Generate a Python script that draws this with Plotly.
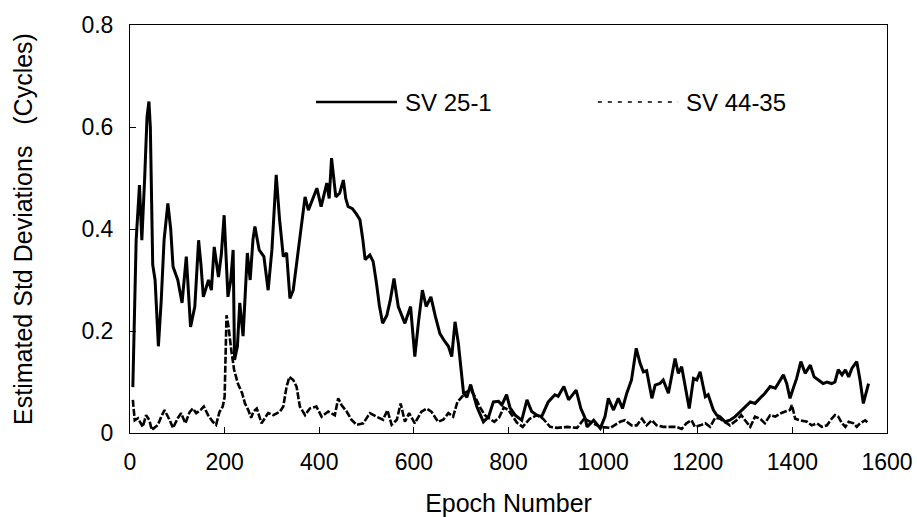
import plotly.graph_objects as go

# SV 25-1 (solid)
sv25_epoch = [6, 13, 20, 25, 31, 36, 40, 43, 48, 53, 60, 66, 72, 80, 86, 91, 101, 110, 119, 128,
              137, 145, 150, 155, 166, 172, 178, 187, 193, 199, 207, 213, 218, 221, 227, 232, 239, 248, 254, 260,
              264, 273, 283, 292, 300, 309, 316, 324, 331, 338, 345, 356, 370, 377, 386, 395, 404, 410, 416, 421,
              426, 435, 443, 451, 456, 461, 470, 478, 486, 492, 497, 507, 514, 521, 527, 534, 543, 550, 558, 567,
              575, 581, 593, 602, 610, 618, 626, 636, 645, 655, 665, 673, 680, 687, 694, 705, 712, 720, 733, 747,
              758, 768, 779, 786, 796, 803, 814, 828, 839, 849, 860, 870, 884, 898, 905, 917, 927, 943, 953, 962,
              966, 980, 994, 1004, 1011, 1022, 1032, 1041, 1050, 1060, 1070, 1078, 1085, 1092, 1103, 1110, 1120, 1127, 1138, 1152,
              1159, 1166, 1182, 1191, 1198, 1205, 1216, 1222, 1233, 1240, 1247, 1258, 1268, 1279, 1290, 1300, 1311, 1321, 1332, 1342,
              1353, 1364, 1370, 1381, 1388, 1395, 1402, 1409, 1418, 1427, 1438, 1446, 1455, 1465, 1473, 1483, 1490, 1497, 1505, 1512,
              1519, 1526, 1536, 1543, 1550, 1554, 1561]
sv25_value = [0.09, 0.378, 0.486, 0.378, 0.50, 0.62, 0.65, 0.60, 0.33, 0.30, 0.17, 0.26, 0.378, 0.45, 0.40, 0.326, 0.30, 0.255, 0.346, 0.208,
              0.248, 0.378, 0.33, 0.267, 0.30, 0.28, 0.365, 0.306, 0.35, 0.427, 0.267, 0.30, 0.359, 0.143, 0.17, 0.255, 0.19, 0.353, 0.30, 0.38,
              0.405, 0.359, 0.346, 0.28, 0.36, 0.506, 0.42, 0.346, 0.353, 0.264, 0.28, 0.359, 0.463, 0.437, 0.46, 0.48, 0.444, 0.47, 0.49, 0.46,
              0.539, 0.463, 0.47, 0.496, 0.46, 0.444, 0.44, 0.43, 0.418, 0.38, 0.34, 0.349, 0.336, 0.293, 0.25, 0.215, 0.231, 0.26, 0.303, 0.248,
              0.23, 0.215, 0.248, 0.15, 0.22, 0.28, 0.248, 0.267, 0.23, 0.195, 0.18, 0.17, 0.15, 0.218, 0.176, 0.078, 0.07, 0.095, 0.052, 0.022,
              0.032, 0.061, 0.062, 0.055, 0.075, 0.05, 0.035, 0.025, 0.065, 0.042, 0.035, 0.032, 0.061, 0.075, 0.072, 0.091, 0.065, 0.084, 0.048, 0.029,
              0.012, 0.025, 0.009, 0.032, 0.068, 0.045, 0.068, 0.048, 0.078, 0.104, 0.166, 0.137, 0.12, 0.122, 0.068, 0.094, 0.097, 0.104, 0.078, 0.146,
              0.117, 0.13, 0.048, 0.107, 0.104, 0.12, 0.071, 0.075, 0.045, 0.035, 0.032, 0.022, 0.025, 0.032, 0.042, 0.052, 0.061, 0.058, 0.068, 0.078,
              0.091, 0.088, 0.097, 0.114, 0.097, 0.068, 0.088, 0.107, 0.14, 0.117, 0.133, 0.11, 0.104, 0.097, 0.10, 0.097, 0.10, 0.124, 0.114, 0.124,
              0.11, 0.127, 0.14, 0.104, 0.058, 0.071, 0.097]

# SV 44-35 (dashed)
sv44_epoch = [6, 10, 17, 27, 34, 41, 46, 59, 66, 73, 84, 91, 101, 108, 117, 126, 133, 140, 149, 156,
              165, 175, 182, 189, 196, 200, 204, 208, 214, 220, 228, 237, 243, 250, 256, 261, 268, 278, 292, 303,
              317, 324, 331, 337, 345, 352, 359, 370, 380, 394, 405, 419, 433, 440, 447, 458, 468, 479, 493, 507,
              521, 535, 544, 553, 564, 572, 581, 590, 602, 616, 627, 637, 651, 662, 673, 683, 692, 701, 710, 720,
              730, 740, 750, 760, 770, 780, 790, 800, 810, 818, 830, 845, 860, 873, 888, 902, 924, 945, 960, 972,
              994, 1015, 1036, 1046, 1060, 1071, 1082, 1092, 1103, 1113, 1127, 1141, 1155, 1166, 1176, 1187, 1194, 1205, 1216, 1226,
              1237, 1247, 1258, 1268, 1282, 1292, 1300, 1311, 1321, 1332, 1342, 1353, 1364, 1374, 1385, 1395, 1399, 1406, 1416, 1431,
              1441, 1452, 1462, 1473, 1483, 1490, 1497, 1505, 1512, 1519, 1529, 1536, 1543, 1550, 1554, 1561]
sv44_value = [0.065, 0.025, 0.029, 0.012, 0.035, 0.025, 0.006, 0.016, 0.032, 0.045, 0.025, 0.01, 0.029, 0.039, 0.019, 0.041, 0.048, 0.039, 0.045, 0.052,
              0.035, 0.022, 0.016, 0.041, 0.052, 0.071, 0.231, 0.21, 0.163, 0.124, 0.097, 0.078, 0.058, 0.045, 0.03, 0.042, 0.048, 0.019, 0.039, 0.035,
              0.042, 0.052, 0.091, 0.11, 0.104, 0.091, 0.052, 0.035, 0.048, 0.052, 0.032, 0.042, 0.035, 0.068, 0.055, 0.042, 0.026, 0.016, 0.019, 0.039,
              0.032, 0.026, 0.045, 0.016, 0.026, 0.058, 0.022, 0.039, 0.019, 0.042, 0.048, 0.042, 0.022, 0.026, 0.039, 0.032, 0.061, 0.07, 0.08, 0.085,
              0.07, 0.05, 0.035, 0.028, 0.022, 0.03, 0.05, 0.045, 0.03, 0.02, 0.012, 0.028, 0.035, 0.028, 0.012, 0.01, 0.012, 0.01, 0.028, 0.022,
              0.012, 0.01, 0.022, 0.025, 0.015, 0.015, 0.028, 0.015, 0.025, 0.015, 0.012, 0.012, 0.012, 0.008, 0.019, 0.025, 0.012, 0.015, 0.019, 0.012,
              0.03, 0.028, 0.022, 0.015, 0.025, 0.035, 0.025, 0.012, 0.032, 0.028, 0.019, 0.035, 0.032, 0.038, 0.042, 0.045, 0.055, 0.028, 0.025, 0.022,
              0.015, 0.019, 0.012, 0.015, 0.028, 0.035, 0.032, 0.019, 0.012, 0.022, 0.019, 0.012, 0.019, 0.022, 0.025, 0.019]

x_ticks = [0, 200, 400, 600, 800, 1000, 1200, 1400, 1600]
y_ticks = [0, 0.2, 0.4, 0.6, 0.8]
y_tick_text = ["0", "0.2", "0.4", "0.6", "0.8"]
names = ["SV 25-1", "SV 44-35"]

FONT = "Arial, Liberation Sans, sans-serif"

fig = go.Figure()
fig.add_trace(go.Scatter(x=sv25_epoch, y=sv25_value, mode="lines", name=names[0],
                         line=dict(color="black", width=3), showlegend=False))
fig.add_trace(go.Scatter(x=sv44_epoch, y=sv44_value, mode="lines", name=names[1],
                         line=dict(color="black", width=2.6, dash="7px,2px"), showlegend=False))

# legend drawn manually (paper coordinates)
fig.add_shape(type="line", xref="paper", yref="paper", x0=0.2457, x1=0.3527, y0=0.811, y1=0.811,
              line=dict(color="black", width=2.5))
fig.add_shape(type="line", xref="paper", yref="paper", x0=0.618, x1=0.724, y0=0.811, y1=0.811,
              line=dict(color="black", width=1.5, dash="4px,6px"))
fig.add_annotation(xref="paper", yref="paper", x=0.3606, y=0.811, text=names[0], showarrow=False,
                   xanchor="left", yanchor="middle", font=dict(family=FONT, size=24, color="black"))
fig.add_annotation(xref="paper", yref="paper", x=0.7318, y=0.811, text=names[1], showarrow=False,
                   xanchor="left", yanchor="middle", font=dict(family=FONT, size=24, color="black"))

fig.update_layout(
    width=917, height=517,
    margin=dict(l=130, r=30, t=25, b=84),
    paper_bgcolor="white", plot_bgcolor="white",
    font=dict(family=FONT, color="black"),
    xaxis=dict(range=[0, 1600], tickvals=x_ticks, ticks="inside", ticklen=6, tickcolor="black",
               showline=True, linecolor="black", linewidth=1, mirror=True, showgrid=False, zeroline=False,
               tickfont=dict(size=23), ticklabelstandoff=8, automargin=False,
               title=dict(text="Epoch Number", font=dict(size=25), standoff=25)),
    yaxis=dict(range=[0, 0.8], tickvals=y_ticks, ticktext=y_tick_text, ticks="inside", ticklen=6, tickcolor="black",
               showline=True, linecolor="black", linewidth=1, mirror=True, showgrid=False, zeroline=False,
               tickfont=dict(size=23), ticklabelstandoff=11, automargin=False,
               title=dict(text="Estimated Std Deviations\u00a0\u00a0\u00a0(Cycles)", font=dict(size=25), standoff=41)),
)

fig.write_html("out.html")
